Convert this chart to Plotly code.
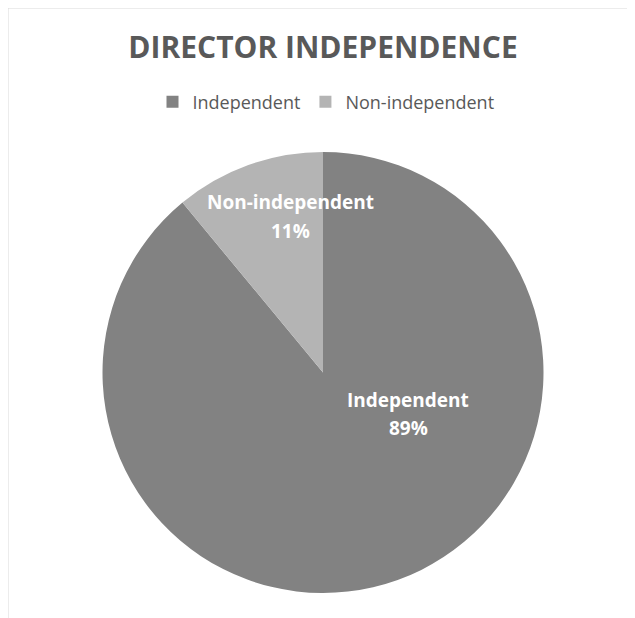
import plotly.graph_objects as go

categories = ["Independent", "Non-independent"]
values = [89, 11]
colors = ["#828282", "#b4b4b4"]
title_text = "DIRECTOR INDEPENDENCE"

W, H = 635, 618
OFF = 8  # page body margin
# pie box in page pixels: x 101..545, y 152..593
L, T = 101 - OFF, 152 - OFF
pw, ph = 444, 441
R, B = W - L - pw, H - T - ph

def px(x):
    return (x - OFF - L) / pw

def py(y):
    return 1 - (y - OFF - T) / ph

FONT = "Open Sans"

fig = go.Figure(go.Pie(
    labels=categories,
    values=values,
    sort=False,
    direction="clockwise",
    rotation=0,
    marker=dict(colors=colors, line=dict(width=0)),
    textinfo="none",
    hoverinfo="label+percent",
))

# (x center, y of name line, y of percent line) in page pixels
label_pos = {"Independent": (408, 400, 428), "Non-independent": (290, 202, 231)}
total = sum(values)
for cat, v in zip(categories, values):
    x, y1, y2 = label_pos[cat]
    for txt, yy in ((cat, y1), (f"{round(100 * v / total)}%", y2)):
        fig.add_annotation(
            x=px(x), y=py(yy), xref="paper", yref="paper",
            text=txt,
            showarrow=False, xanchor="center", yanchor="middle",
            font=dict(family=FONT, size=19, color="white", weight="bold"),
            align="center",
        )

fig.add_shape(
    type="rect", xref="paper", yref="paper",
    x0=px(OFF), x1=px(700), y0=py(700), y1=py(OFF),
    line=dict(color="#d9d9d9", width=1), fillcolor="rgba(0,0,0,0)", layer="below",
)

fig.update_layout(
    width=W, height=H,
    margin=dict(l=L, r=R, t=T, b=B),
    paper_bgcolor="white",
    plot_bgcolor="white",
    title=dict(
        text=title_text, x=(323 - OFF) / W, xanchor="center", y=1 - (47 - OFF) / H, yanchor="middle",
        font=dict(family=FONT, size=30, color="#595959", weight="bold"),
    ),
    legend=dict(
        orientation="h", x=px(326), xanchor="center", y=py(102), yanchor="middle",
        font=dict(family=FONT, size=18, color="#595959"),
        itemwidth=30,
    ),
)

fig.write_html("out.html")
